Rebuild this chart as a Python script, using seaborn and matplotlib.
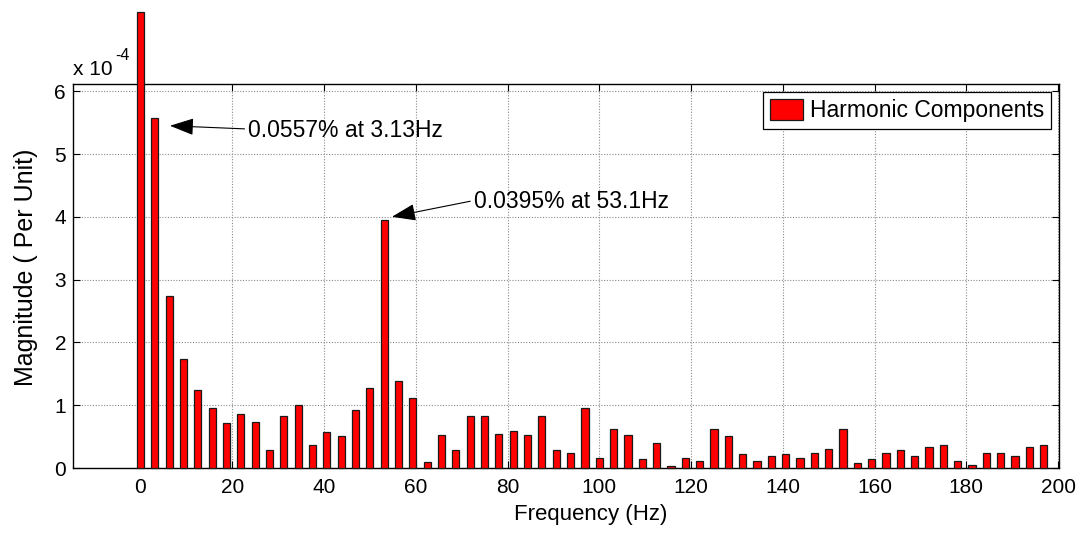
import numpy as np
import pandas as pd
import matplotlib
matplotlib.use("Agg")
import matplotlib.pyplot as plt
from matplotlib.ticker import FuncFormatter
import seaborn as sns

# Spectrum bins (Hz) and harmonic magnitudes (per unit, in units of 1e-4)
frequency_hz = [
    0.0, 3.125, 6.25, 9.375, 12.5, 15.625, 18.75, 21.875,
    25.0, 28.125, 31.25, 34.375, 37.5, 40.625, 43.75, 46.875,
    50.0, 53.125, 56.25, 59.375, 62.5, 65.625, 68.75, 71.875,
    75.0, 78.125, 81.25, 84.375, 87.5, 90.625, 93.75, 96.875,
    100.0, 103.125, 106.25, 109.375, 112.5, 115.625, 118.75, 121.875,
    125.0, 128.125, 131.25, 134.375, 137.5, 140.625, 143.75, 146.875,
    150.0, 153.125, 156.25, 159.375, 162.5, 165.625, 168.75, 171.875,
    175.0, 178.125, 181.25, 184.375, 187.5, 190.625, 193.75, 196.875,
]
magnitude_e4 = [
    7.26, 5.57, 2.735, 1.737, 1.237, 0.956, 0.717, 0.86,
    0.738, 0.287, 0.834, 0.998, 0.361, 0.574, 0.505, 0.927,
    1.28, 3.95, 1.38, 1.12, 0.096, 0.52, 0.287, 0.83,
    0.83, 0.54, 0.59, 0.52, 0.83, 0.287, 0.24, 0.95,
    0.155, 0.616, 0.522, 0.139, 0.406, 0.027, 0.166, 0.118,
    0.62, 0.503, 0.219, 0.118, 0.193, 0.219, 0.166, 0.24,
    0.31, 0.62, 0.075, 0.144, 0.24, 0.29, 0.193, 0.337,
    0.364, 0.118, 0.053, 0.24, 0.24, 0.193, 0.337, 0.364,
]
x_ticks = [0, 20, 40, 60, 80, 100, 120, 140, 160, 180, 200]
y_ticks_e4 = [0, 1, 2, 3, 4, 5, 6]

df = pd.DataFrame({
    "Frequency": frequency_hz,
    "Magnitude": np.array(magnitude_e4) * 1e-4,
})

sns.set_theme(style="white")
plt.rcParams["font.family"] = ["Liberation Sans", "DejaVu Sans"]
plt.rcParams["text.color"] = "black"
plt.rcParams["axes.labelcolor"] = "black"
plt.rcParams["xtick.color"] = "black"
plt.rcParams["ytick.color"] = "black"

fig = plt.figure(figsize=(10.89, 5.41), dpi=100)
ax = fig.add_axes([73 / 1089, 1 - 468 / 541, (1059 - 73) / 1089, (468 - 84) / 541])

sns.barplot(
    data=df, x="Frequency", y="Magnitude", native_scale=True,
    width=0.5, color="#ff0000", saturation=1, errorbar=None,
    edgecolor="#1a1a1a", linewidth=0.9, label="Harmonic Components", ax=ax,
)
# the DC bar is taller than the y range and is left unclipped
for patch in ax.patches:
    patch.set_clip_on(False)
    patch.set_zorder(3)

ax.set_xlim(-14.7, 200.2)
ax.set_ylim(0, 6.115e-4)
ax.set_xticks(x_ticks)
ax.set_yticks(np.array(y_ticks_e4) * 1e-4)
ax.yaxis.set_major_formatter(FuncFormatter(lambda v, _: f"{v * 1e4:g}"))

ax.grid(True, which="major", color="#8c8c8c", linestyle=(0, (1, 1.5)), linewidth=0.8)
ax.set_axisbelow(True)

for side in ("left", "right", "top", "bottom"):
    ax.spines[side].set_visible(True)
    ax.spines[side].set_color("black")
    ax.spines[side].set_linewidth(1.0)
ax.tick_params(axis="both", which="major", direction="in", length=5, width=0.8,
               top=True, right=True, bottom=True, left=True,
               labelsize=15, pad=7)
ax.tick_params(axis="y", pad=5)

ax.set_xlabel("Frequency (Hz)", fontsize=16)
ax.set_ylabel("Magnitude ( Per Unit)", fontsize=18)
ax.xaxis.set_label_coords(0.525, -0.093)
ax.yaxis.set_label_coords(-0.036, 0.523)

# axis exponent label
ax.text(0.0, 1.0234, "x 10", transform=ax.transAxes,
        ha="left", va="baseline", fontsize=15)
ax.text(0.0426, 1.0625, "-4", transform=ax.transAxes,
        ha="left", va="baseline", fontsize=11.5)

arrow = dict(arrowstyle="-|>,head_length=0.9,head_width=0.32",
             color="black", lw=0.8, relpos=(0, 0.55), shrinkA=0, shrinkB=0)
ax.annotate("0.0557% at 3.13Hz", xy=(6.43, 5.45e-4), xytext=(23.4, 5.38e-4),
            ha="left", va="center", fontsize=16.5, zorder=5, arrowprops=arrow)
ax.annotate("0.0395% at 53.1Hz", xy=(54.8, 4.0e-4), xytext=(72.6, 4.24e-4),
            ha="left", va="center", fontsize=16.5, zorder=5, arrowprops=arrow)

leg = ax.legend(loc="upper right", fontsize=16.5, frameon=True, fancybox=False,
                edgecolor="black", framealpha=1, borderaxespad=0.35,
                handlelength=1.45, handleheight=1.05, handletextpad=0.3,
                borderpad=0.3)
leg.get_frame().set_linewidth(0.9)
leg.set_zorder(6)

fig.savefig("out.png", dpi=100)
